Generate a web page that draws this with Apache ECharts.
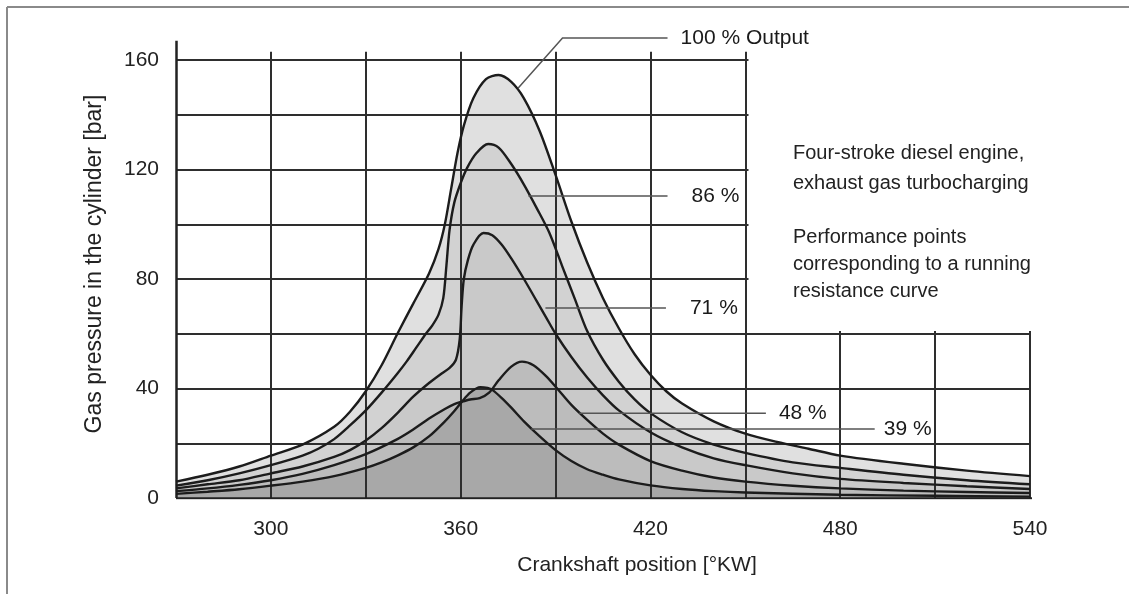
<!DOCTYPE html>
<html>
<head>
<meta charset="utf-8">
<script src="https://cdn.jsdelivr.net/npm/echarts@6/dist/echarts.min.js"></script>
<style>
html,body{margin:0;padding:0;background:#fff;}
#c{width:1129px;height:594px;}
</style>
</head>
<body>
<div id="c"></div>
<script>
// ---- data (crank angle [°KW], pressure [bar]) ----
const out100 = [[270,6],[280,8.5],[290,11.5],[300,15.5],[310,19.5],[320,26],[325,31.5],[330,39],[335,48.5],[340,60],[345,71],[350,82],[353,91],[355,100],[357,113],[359,126],[361,136],[364,146],[368,153],[372,154.5],[376,152],[380,146],[385,134],[390,118],[395,101],[400,86],[405,73],[410,62],[415,52.5],[420,45],[425,39],[430,34.5],[440,28],[450,23.5],[460,20.5],[470,18],[480,15.5],[500,12.5],[520,10],[540,8]];
const out86 = [[270,4.5],[280,6.5],[290,9],[300,12],[310,15.5],[315,18],[320,21.5],[325,26.5],[330,32],[335,38.5],[340,45.5],[343,50],[346,55],[349,60],[351,63],[353,67],[354.5,73],[355.5,85],[356.5,98],[358,108],[360,115],[362,120.5],[365,126],[368.7,129.3],[372,128],[376,122],[380,114.5],[384,106],[388,97],[392,85],[396,73],[400,61],[405,50.5],[410,42.5],[415,36],[420,31],[430,24],[440,19.5],[450,16.5],[465,13],[480,11],[500,8.5],[520,6.5],[540,5]];
const out71 = [[270,3.5],[280,5],[290,6.5],[300,9],[310,11.5],[320,15],[325,17.5],[330,21],[335,25.5],[340,31],[345,37],[350,42],[354,45.5],[356.5,47.5],[358.5,50.5],[359.7,58],[360.3,70],[361,80],[362.3,87],[364,92.5],[367.2,96.8],[370,96],[373,92.5],[376,87.5],[380,80],[384,72],[387,66],[390,60],[395,51.5],[400,44],[405,37.5],[410,32],[420,24],[430,18.5],[440,14.5],[450,12],[465,9],[480,7],[500,5.5],[520,4.3],[540,3.3]];
const out48 = [[270,2.5],[280,3.5],[290,4.8],[300,6.5],[310,8.8],[320,12],[330,16],[340,21.5],[345,25],[350,29],[355,32.5],[358,34.3],[360.4,35.2],[363,36],[366,36.5],[369,38.5],[372,43],[376,48],[379.4,49.8],[383,48.5],[387,44.5],[390.5,40],[395,34],[400,28.5],[405,23.5],[410,19.5],[420,13.5],[430,10],[440,7.5],[450,6],[465,4.5],[480,3.5],[500,2.7],[520,2.2],[540,1.8]];
const out39 = [[270,1.5],[280,2.3],[290,3.2],[300,4.5],[310,6],[320,8],[330,11],[335,13],[340,15.5],[345,18.5],[350,22.5],[355,28],[358,31.8],[360.4,35.2],[363,38.5],[366.2,40.5],[368.5,40.2],[370,39.5],[373,36.5],[376,33],[380,28],[385,22.5],[390,17.5],[395,13.5],[400,10.5],[405,8.5],[410,6.8],[420,4.6],[430,3.3],[440,2.5],[450,2],[480,1.2],[510,0.8],[540,0.5]];

const curveNames = ['100 %','86 %','71 %','48 %','39 %'];
const curves = [out100, out86, out71, out48, out39];

// tick labels
const xTicks = [300,360,420,480,540];
const yTicks = [0,40,80,120,160];

// grid layout (in data units)
const vGridTall = [300,330,360,390,420,450];
const vGridShort = [480,510,540];
const hGridWide = [20,40,60];
const hGridNarrow = [80,100,120,140,160];

// annotations
const annoLabels = ['100 % Output','86 %','71 %','48 %','39 %'];
const annoPaths = [
  [[378.2,149.8],[392.2,168],[425.4,168]],
  [[381.4,110.3],[425.4,110.3]],
  [[386.8,69.4],[424.9,69.4]],
  [[397.5,31],[456.5,31]],
  [[382.3,25.2],[490.9,25.2]]
];
const annoGap = [13,24,24,13,9];

const xTitle = 'Crankshaft position [°KW]';
const yTitle = 'Gas pressure in the cylinder [bar]';
const noteLines1 = ['Four-stroke diesel engine,','exhaust gas turbocharging'];
const noteLines2 = ['Performance points','corresponding to a running','resistance curve'];

// ---- build ----
const FONT = 'Liberation Sans, Arial, sans-serif';
const fills = ['#e0e0e0','#d2d2d2','#c9c9c9','#bcbcbc','#a8a8a8'];

const gridSegs = [];
vGridTall.forEach(x => gridSegs.push({coords:[[x,0],[x,163]]}));
vGridShort.forEach(x => gridSegs.push({coords:[[x,0],[x,61]]}));
hGridWide.forEach(y => gridSegs.push({coords:[[270,y],[541,y]]}));
hGridNarrow.forEach(y => gridSegs.push({coords:[[270,y],[451,y]]}));
const axisSegs = [{coords:[[270,0],[270,167]]},{coords:[[270,0],[541,0]]}];

const SMOOTH = 0.3;
const series = [];
curves.forEach((d,i) => {
  series.push({
    type:'line', name:curveNames[i]+' fill', data:d, symbol:'none', silent:true,
    smooth:SMOOTH, z:1+i*0.01,
    lineStyle:{width:0}, areaStyle:{color:fills[i], opacity:1}
  });
});
series.push({
  type:'lines', coordinateSystem:'cartesian2d', silent:true, z:3,
  lineStyle:{color:'#2e2e2e', width:2, opacity:1}, data:gridSegs
});
series.push({
  type:'lines', coordinateSystem:'cartesian2d', silent:true, z:3,
  lineStyle:{color:'#222', width:2.5, opacity:1}, data:axisSegs
});
curves.forEach((d,i) => {
  series.push({
    type:'line', name:curveNames[i], data:d, symbol:'none', silent:true,
    smooth:SMOOTH, z:4,
    lineStyle:{color:'#1c1c1c', width:2.4}
  });
});
series.push({
  type:'lines', coordinateSystem:'cartesian2d', polyline:true, silent:true, z:5,
  lineStyle:{color:'#555', width:1.5, opacity:1},
  data: annoPaths.map(p => ({coords:p}))
});
series.push({
  type:'scatter', silent:true, z:6, symbolSize:0, itemStyle:{opacity:1},
  data: annoPaths.map((p,i) => ({
    value:p[p.length-1],
    label:{show:true, position:'right', distance:annoGap[i], formatter:annoLabels[i],
      color:'#1a1a1a', opacity:1, fontSize:21, fontFamily:FONT}
  }))
});

const graphics = [
  {type:'line', shape:{x1:7,y1:7,x2:1129,y2:7}, style:{stroke:'#8a8a8a', lineWidth:2}},
  {type:'line', shape:{x1:7,y1:7,x2:7,y2:594}, style:{stroke:'#8a8a8a', lineWidth:2}},
  {type:'text', x:95, y:264, rotation:Math.PI/2,
    style:{text:yTitle, fill:'#222', font:'23px '+FONT,
      textAlign:'center', textVerticalAlign:'middle'}},
  {type:'text', x:637, y:565,
    style:{text:xTitle, fill:'#222', font:'21px '+FONT,
      textAlign:'center', textVerticalAlign:'middle'}}
];
noteLines1.forEach((t,i)=>graphics.push({type:'text', x:793, y:153+i*30,
  style:{text:t, fill:'#222', font:'20px '+FONT, textVerticalAlign:'middle'}}));
noteLines2.forEach((t,i)=>graphics.push({type:'text', x:793, y:237+i*27,
  style:{text:t, fill:'#222', font:'20px '+FONT, textVerticalAlign:'middle'}}));

const chart = echarts.init(document.getElementById('c'), null, {renderer:'canvas'});
chart.setOption({
  animation:false,
  backgroundColor:'#fff',
  grid:{left:176, right:99, top:5.25, bottom:96, containLabel:false},
  xAxis:{
    type:'value', min:270, max:540, interval:30,
    axisLine:{show:false}, axisTick:{show:false}, splitLine:{show:false},
    axisLabel:{margin:21, color:'#222', fontSize:21, fontFamily:FONT,
      formatter:v => xTicks.includes(v) ? String(v) : ''}
  },
  yAxis:{
    type:'value', min:0, max:180, interval:20,
    axisLine:{show:false}, axisTick:{show:false}, splitLine:{show:false},
    axisLabel:{margin:17, color:'#222', fontSize:21, fontFamily:FONT,
      formatter:v => yTicks.includes(v) ? String(v) : ''}
  },
  graphic:graphics,
  series:series
});
</script>
</body>
</html>
